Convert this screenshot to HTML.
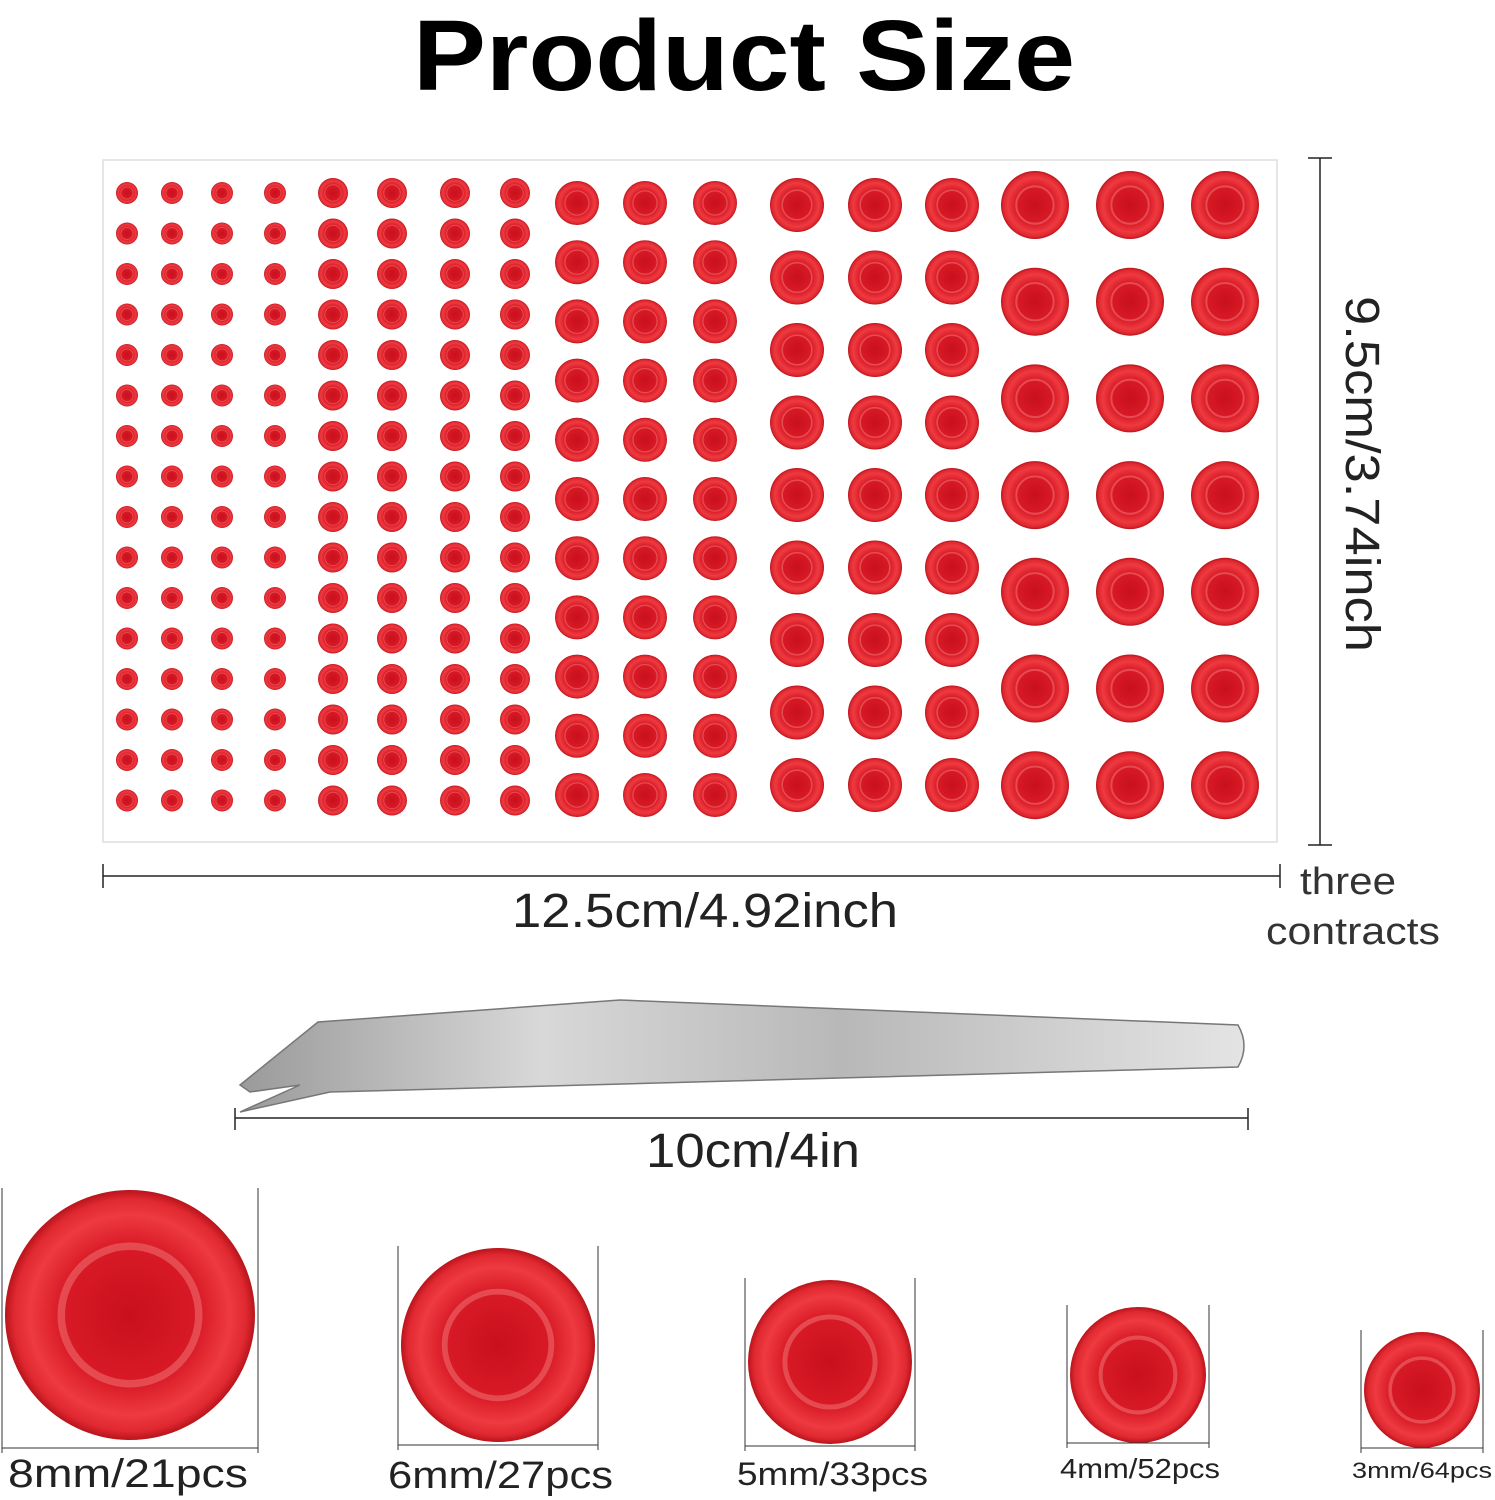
<!DOCTYPE html>
<html><head><meta charset="utf-8">
<style>
html,body{margin:0;padding:0;background:#fff;}
svg{display:block;}
text{font-family:"Liberation Sans",sans-serif;}
</style></head>
<body>
<svg id="s" width="1495" height="1500" viewBox="0 0 1495 1500" xmlns="http://www.w3.org/2000/svg">
<defs>
<radialGradient id="g" cx="50%" cy="50%" r="50%">
<stop offset="0" stop-color="#c8101c"/>
<stop offset="0.55" stop-color="#d81a26"/>
<stop offset="0.8" stop-color="#ee3a40"/>
<stop offset="0.93" stop-color="#e02830"/>
<stop offset="1" stop-color="#b8141c"/>
</radialGradient>
<linearGradient id="tw" x1="0" y1="0" x2="1" y2="0">
<stop offset="0" stop-color="#9a9a9a"/>
<stop offset="0.3" stop-color="#d8d8d8"/>
<stop offset="0.6" stop-color="#b8b8b8"/>
<stop offset="1" stop-color="#e4e4e4"/>
</linearGradient>
</defs>
<text x="413" y="90" font-size="100" font-weight="bold" fill="#000" textLength="662" lengthAdjust="spacingAndGlyphs">Product Size</text>
<rect x="103" y="160" width="1174" height="682" fill="#fff" stroke="#ddd" stroke-width="1.5"/>
<g id="gems"></g>
<line x1="1320" y1="158" x2="1320" y2="845" stroke="#222" stroke-width="1.5"/>
<line x1="1308" y1="158" x2="1332" y2="158" stroke="#222" stroke-width="1.5"/>
<line x1="1308" y1="845" x2="1332" y2="845" stroke="#222" stroke-width="1.5"/>
<text transform="translate(1346,296) rotate(90)" font-size="48" fill="#222" textLength="356" lengthAdjust="spacingAndGlyphs">9.5cm/3.74inch</text>
<line x1="103" y1="876" x2="1280" y2="876" stroke="#222" stroke-width="1.5"/>
<line x1="103" y1="864" x2="103" y2="888" stroke="#222" stroke-width="1.5"/>
<line x1="1280" y1="864" x2="1280" y2="888" stroke="#222" stroke-width="1.5"/>
<text x="512" y="927" font-size="48" fill="#222" textLength="386" lengthAdjust="spacingAndGlyphs">12.5cm/4.92inch</text>
<text x="1300" y="894" font-size="38" fill="#333" textLength="96" lengthAdjust="spacingAndGlyphs">three</text>
<text x="1266" y="944" font-size="38" fill="#333" textLength="174" lengthAdjust="spacingAndGlyphs">contracts</text>
<path d="M240,1085 L318,1022 L620,1000 L1238,1025 Q1250,1046 1238,1067 L330,1092 L240,1112 L300,1085 L250,1092 Z" fill="url(#tw)" stroke="#777" stroke-width="1.5"/>
<line x1="235" y1="1118" x2="1248" y2="1118" stroke="#222" stroke-width="1.5"/>
<line x1="235" y1="1108" x2="235" y2="1130" stroke="#222" stroke-width="1.5"/>
<line x1="1248" y1="1108" x2="1248" y2="1130" stroke="#222" stroke-width="1.5"/>
<text x="646" y="1167" font-size="48" fill="#222" textLength="214" lengthAdjust="spacingAndGlyphs">10cm/4in</text>
<g id="big"></g>
<text x="8" y="1487" font-size="40" fill="#222" textLength="240" lengthAdjust="spacingAndGlyphs">8mm/21pcs</text>
<text x="388" y="1488" font-size="38" fill="#222" textLength="225" lengthAdjust="spacingAndGlyphs">6mm/27pcs</text>
<text x="737" y="1485" font-size="32" fill="#222" textLength="191" lengthAdjust="spacingAndGlyphs">5mm/33pcs</text>
<text x="1060" y="1478" font-size="28" fill="#222" textLength="160" lengthAdjust="spacingAndGlyphs">4mm/52pcs</text>
<text x="1352" y="1478" font-size="22" fill="#222" textLength="140" lengthAdjust="spacingAndGlyphs">3mm/64pcs</text>
</svg>
<script>
var NS="http://www.w3.org/2000/svg";
function gem(p,cx,cy,r){
 var c=document.createElementNS(NS,"circle");c.setAttribute("cx",cx);c.setAttribute("cy",cy);c.setAttribute("r",r);c.setAttribute("fill","url(#g)");p.appendChild(c);
 var h=document.createElementNS(NS,"circle");h.setAttribute("cx",cx);h.setAttribute("cy",cy);h.setAttribute("r",r*0.55);h.setAttribute("fill","none");h.setAttribute("stroke","#f06a6e");h.setAttribute("stroke-width",Math.max(1,r*0.06));h.setAttribute("opacity","0.6");p.appendChild(h);
}
var G=document.getElementById("gems");
[[127,11],[172,11],[222,11],[275,11],[333,15],[392,15],[455,15],[515,15]].forEach(function(c){
 for(var i=0;i<16;i++)gem(G,c[0],193+i*40.5,c[1]);});
[577,645,715].forEach(function(x){for(var i=0;i<11;i++)gem(G,x,203+i*59.2,22);});
[797,875,952].forEach(function(x){for(var i=0;i<9;i++)gem(G,x,205+i*72.5,27);});
[1035,1130,1225].forEach(function(x){for(var i=0;i<7;i++)gem(G,x,205+i*96.7,34);});
var B=document.getElementById("big");
[[130,1315,125,1448],[498,1345,97,1445],[830,1362,82,1446],[1138,1375,68,1443],[1422,1390,58,1448]].forEach(function(b){
 gem(B,b[0],b[1],b[2]);
 var l=b[0]-b[2]-3,r=b[0]+b[2]+3,y=b[3];
 [[l,y,r,y],[l,b[1]-b[2]-2,l,y+5],[r,b[1]-b[2]-2,r,y+5]].forEach(function(q){
  var e=document.createElementNS(NS,"line");e.setAttribute("x1",q[0]);e.setAttribute("y1",q[1]);e.setAttribute("x2",q[2]);e.setAttribute("y2",q[3]);e.setAttribute("stroke","#333");e.setAttribute("stroke-width","1");B.appendChild(e);});
});
</script>
</body></html>
